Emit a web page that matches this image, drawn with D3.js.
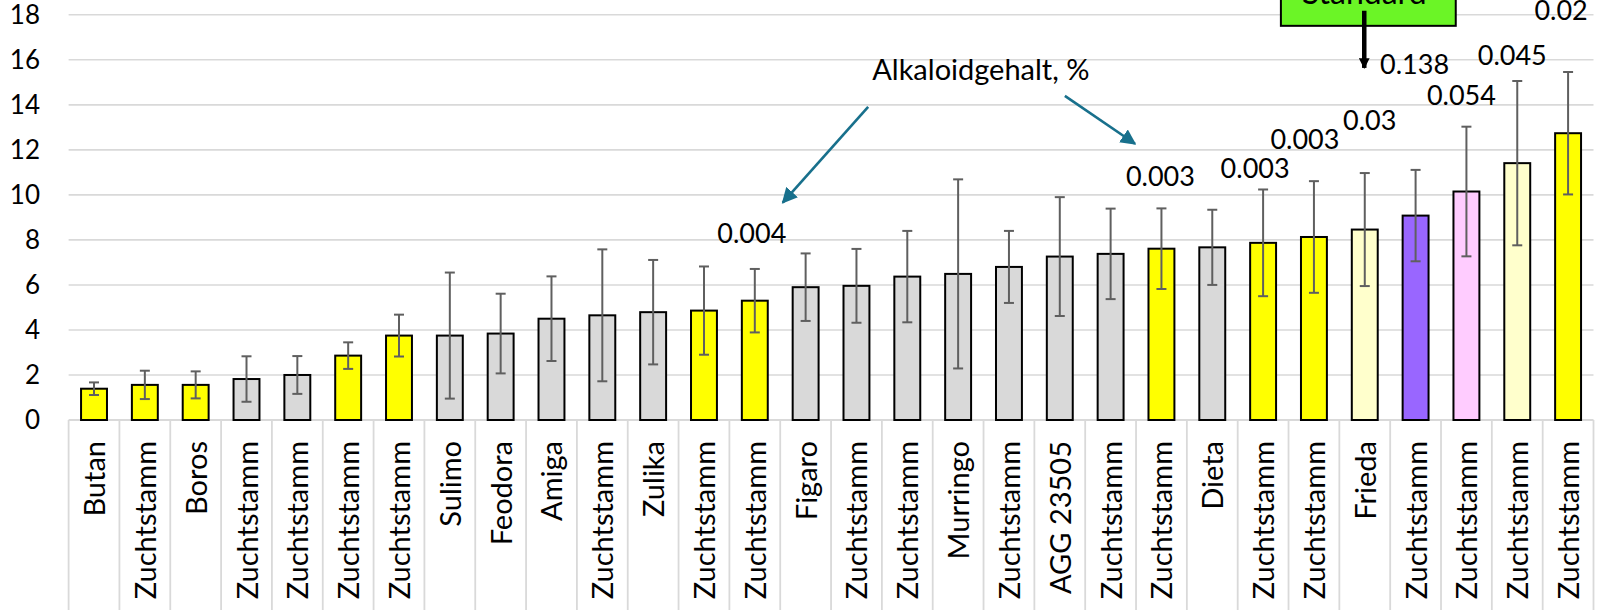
<!DOCTYPE html>
<html>
<head>
<meta charset="utf-8">
<script src="https://cdn.jsdelivr.net/npm/d3@7"></script>
<style>
    html, body { margin: 0; padding: 0; background: #fff; }
    svg { display: block; font-family: Lato, 'Noto Sans', sans-serif; }
</style>
</head>
<body>
<svg id="chart" width="1604" height="610"></svg>
<script>
let categories = [
    'Butan', 'Zuchtstamm', 'Boros', 'Zuchtstamm', 'Zuchtstamm', 'Zuchtstamm',
    'Zuchtstamm', 'Sulimo', 'Feodora', 'Amiga', 'Zuchtstamm', 'Zulika',
    'Zuchtstamm', 'Zuchtstamm', 'Figaro', 'Zuchtstamm', 'Zuchtstamm', 'Murringo',
    'Zuchtstamm', 'AGG 23505', 'Zuchtstamm', 'Zuchtstamm', 'Dieta', 'Zuchtstamm',
    'Zuchtstamm', 'Frieda', 'Zuchtstamm', 'Zuchtstamm', 'Zuchtstamm', 'Zuchtstamm',
];
let values = [
    1.39, 1.56, 1.56, 1.82, 2.0, 2.86, 3.75, 3.75, 3.84, 4.5,
    4.65, 4.79, 4.86, 5.3, 5.9, 5.96, 6.37, 6.49, 6.8, 7.26,
    7.38, 7.61, 7.67, 7.87, 8.13, 8.46, 9.08, 10.15, 11.41, 12.74,
];
let errors = [
    0.28, 0.63, 0.6, 1.01, 0.84, 0.59, 0.93, 2.8, 1.77, 1.88,
    2.93, 2.32, 1.96, 1.41, 1.5, 1.64, 2.03, 4.2, 1.6, 2.64,
    2.01, 1.79, 1.67, 2.37, 2.48, 2.51, 2.03, 2.88, 3.65, 2.72,
];
// bar group: y = yellow, g = grey, l = light yellow, p = purple, k = pink
let groups = [
    'y', 'y', 'y', 'g', 'g', 'y', 'y', 'g', 'g', 'g',
    'g', 'g', 'y', 'y', 'g', 'g', 'g', 'g', 'g', 'g',
    'g', 'y', 'g', 'y', 'y', 'l', 'p', 'k', 'l', 'y',
];
let yTicks = [0, 2, 4, 6, 8, 10, 12, 14, 16, 18];

// alkaloid content labels above some bars
let alkIndex = [13, 21, 23, 24, 25, 26, 27, 28, 29];
let alkText = ['0.004', '0.003', '0.003', '0.003', '0.03', '0.138', '0.054', '0.045', '0.02'];

let colors = {
    y: '#ffff00',
    g: '#d9d9d9',
    l: '#ffffcc',
    p: '#9966ff',
    k: '#ffccff',
};

// hand placed label heights (in axis units) and small x nudges (px)
let alkLevel = [8.31, 10.81, 11.2, 12.49, 13.33, 15.78, 14.44, 16.22, 18.22];
let alkNudge = [-3, -1, -8, -9, 5, -1, -5, -5, -7];

let svg = d3.select('#chart');
let W = 1604,
    H = 610;

let x = d3
    .scaleBand()
    .domain(d3.range(categories.length))
    .range([68.6, 1593.5])
    .paddingInner(0.49)
    .paddingOuter(0.245);
let y = d3.scaleLinear().domain([0, 18]).range([420, 14.8]);

let cx = (i) => x(i) + x.bandwidth() / 2;
// position by fractional category index
let fx = (t) => x.range()[0] + t * x.step();

// grid
svg.append('g')
    .selectAll('line')
    .data(yTicks)
    .enter()
    .append('line')
    .attr('x1', 68.6)
    .attr('x2', 1593.5)
    .attr('y1', (d) => y(d))
    .attr('y2', (d) => y(d))
    .attr('stroke', '#d9d9d9')
    .attr('stroke-width', (d) => (d === 0 ? 2.2 : 1.6));

svg.append('g')
    .selectAll('text')
    .data(yTicks)
    .enter()
    .append('text')
    .attr('x', 40)
    .attr('y', (d) => y(d))
    .attr('dy', '0.36em')
    .attr('text-anchor', 'end')
    .attr('font-size', 26)
    .attr('fill', '#000')
    .text((d) => d);

// category table lines
svg.append('g')
    .selectAll('line')
    .data(d3.range(categories.length + 1))
    .enter()
    .append('line')
    .attr('x1', (d) => fx(d))
    .attr('x2', (d) => fx(d))
    .attr('y1', y(0))
    .attr('y2', H)
    .attr('stroke', '#d9d9d9')
    .attr('stroke-width', 1.8);

svg.append('g')
    .selectAll('text')
    .data(categories)
    .enter()
    .append('text')
    .attr('transform', (d, i) => `translate(${cx(i) + 11}, 441) rotate(-90)`)
    .attr('text-anchor', 'end')
    .attr('font-size', 29)
    .attr('fill', '#000')
    .text((d) => d);

// bars
svg.append('g')
    .selectAll('rect')
    .data(values)
    .enter()
    .append('rect')
    .attr('x', (d, i) => x(i))
    .attr('y', (d) => y(d))
    .attr('width', x.bandwidth())
    .attr('height', (d) => y(0) - y(d))
    .attr('fill', (d, i) => colors[groups[i]])
    .attr('stroke', '#000')
    .attr('stroke-width', 2);

// error bars
let eb = svg
    .append('g')
    .attr('stroke', '#5f5f5f')
    .attr('stroke-width', 2)
    .selectAll('g')
    .data(values)
    .enter()
    .append('g');
eb.append('line')
    .attr('x1', (d, i) => cx(i))
    .attr('x2', (d, i) => cx(i))
    .attr('y1', (d, i) => y(d + errors[i]))
    .attr('y2', (d, i) => y(d - errors[i]));
eb.append('line')
    .attr('x1', (d, i) => cx(i) - 5)
    .attr('x2', (d, i) => cx(i) + 5)
    .attr('y1', (d, i) => y(d + errors[i]))
    .attr('y2', (d, i) => y(d + errors[i]));
eb.append('line')
    .attr('x1', (d, i) => cx(i) - 5)
    .attr('x2', (d, i) => cx(i) + 5)
    .attr('y1', (d, i) => y(d - errors[i]))
    .attr('y2', (d, i) => y(d - errors[i]));

// alkaloid values
svg.append('g')
    .selectAll('text')
    .data(alkText)
    .enter()
    .append('text')
    .attr('x', (d, i) => cx(alkIndex[i]) + alkNudge[i])
    .attr('y', (d, i) => y(alkLevel[i]))
    .attr('dy', '0.36em')
    .attr('text-anchor', 'middle')
    .attr('font-size', 27)
    .attr('fill', '#000')
    .text((d) => d);

// annotation with two teal arrows
let defs = svg.append('defs');
defs.append('marker')
    .attr('id', 'tealHead')
    .attr('viewBox', '0 0 10 10')
    .attr('refX', 9)
    .attr('refY', 5)
    .attr('markerWidth', 6)
    .attr('markerHeight', 6)
    .attr('markerUnits', 'strokeWidth')
    .attr('orient', 'auto')
    .append('path')
    .attr('d', 'M0,0 L10,5 L0,10 z')
    .attr('fill', '#18708c');
defs.append('marker')
    .attr('id', 'blackHead')
    .attr('viewBox', '0 0 10 10')
    .attr('refX', 9)
    .attr('refY', 5)
    .attr('markerWidth', 2.4)
    .attr('markerHeight', 2.4)
    .attr('markerUnits', 'strokeWidth')
    .attr('orient', 'auto')
    .append('path')
    .attr('d', 'M0,0 L10,5 L0,10 z')
    .attr('fill', '#000');

svg.append('text')
    .attr('x', fx(15.81))
    .attr('y', y(15.11))
    .attr('font-size', 29)
    .attr('fill', '#000')
    .text('Alkaloidgehalt, %');

let arrows = [
    [15.73, 13.91, 14.05, 9.66],
    [19.6, 14.4, 20.98, 12.27],
];
svg.append('g')
    .selectAll('line')
    .data(arrows)
    .enter()
    .append('line')
    .attr('x1', (d) => fx(d[0]))
    .attr('y1', (d) => y(d[1]))
    .attr('x2', (d) => fx(d[2]))
    .attr('y2', (d) => y(d[3]))
    .attr('stroke', '#18708c')
    .attr('stroke-width', 2.6)
    .attr('marker-end', 'url(#tealHead)');

// Standard box, cut at the top edge
svg.append('rect')
    .attr('x', fx(23.85))
    .attr('y', y(19.6))
    .attr('width', fx(27.29) - fx(23.85))
    .attr('height', y(17.51) - y(19.6))
    .attr('fill', '#6bf526')
    .attr('stroke', '#000')
    .attr('stroke-width', 2);
svg.append('text')
    .attr('x', fx(25.49))
    .attr('y', 4)
    .attr('text-anchor', 'middle')
    .attr('font-size', 32)
    .attr('fill', '#000')
    .text('Standard');
svg.append('line')
    .attr('x1', fx(25.49))
    .attr('x2', fx(25.49))
    .attr('y1', y(18.18))
    .attr('y2', y(15.64))
    .attr('stroke', '#000')
    .attr('stroke-width', 4.5)
    .attr('marker-end', 'url(#blackHead)');
</script>
</body>
</html>
